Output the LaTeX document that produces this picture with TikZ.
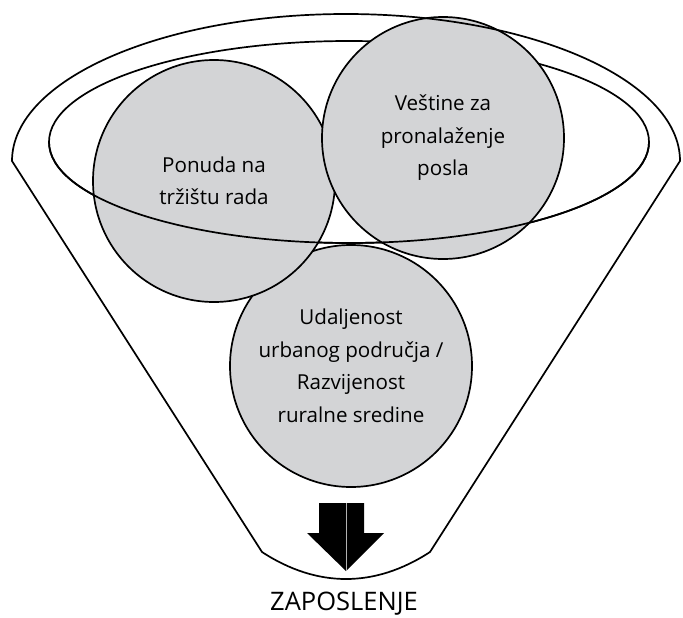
\documentclass[tikz,border=0pt]{standalone}
\usepackage{fontspec}
\setmainfont{Open Sans}
\usetikzlibrary{shapes.geometric}
\definecolor{circfill}{RGB}{211,212,214}
\begin{document}
\begin{tikzpicture}[x=1pt,y=-1pt,
  outline/.style={draw=black, line width=1.7pt, line join=round},
  bubble/.style={circle, outline, fill=circfill, minimum size=242pt, inner sep=0pt, outer sep=0pt,
     align=center, font=\fontsize{20.6}{32.5}\selectfont},
  zaplabel/.style={font=\fontsize{25.5}{30}\selectfont}]
\useasboundingbox (0,0) rectangle (683,618);
% funnel
\coordinate (fl) at (12,161);
\coordinate (fr) at (680,161);
\coordinate (bl) at (262,552);
\coordinate (br) at (430,552);
\path[fill=white] (fl) arc[start angle=180, end angle=0, x radius=334pt, y radius=147pt] -- (br)
  .. controls (374.7,588) and (317.3,588) .. (bl) -- cycle;
% inner ellipse
\node[ellipse, outline, minimum width=600pt, minimum height=202pt, inner sep=0pt, outer sep=0pt] (inner) at (349,142) {};
% circles
\node[bubble] (udalj) at (351,366) {Udaljenost\\urbanog područja /\\Razvijenost\\ruralne sredine};
\node[bubble] (ponuda) at (214,181) {Ponuda na\\tržištu rada};
\node[bubble] (vestine) at (443,138) {Veštine za\\pronalaženje\\posla};
% front part of inner ellipse
\draw[outline] (inner.west) arc[start angle=180, end angle=360, x radius=300pt, y radius=101pt];
% funnel outline on top
\draw[outline] (fl) arc[start angle=180, end angle=0, x radius=334pt, y radius=147pt] -- (br)
  .. controls (374.7,588) and (317.3,588) .. (bl) -- cycle;
% arrow
\coordinate (at) at (346,503);
\coordinate (tip) at (346,571);
\fill[black] (319,503) -- (364,503) -- (364,533) -- (384,533) -- (tip) -- (307,533) -- (319,533) -- cycle;
\draw[gray!60, line width=0.6pt] (at) -- (tip);
\node[zaplabel, anchor=base, inner sep=0pt] (zap) at (344,610) {ZAPOSLENJE};
\end{tikzpicture}
\end{document}
